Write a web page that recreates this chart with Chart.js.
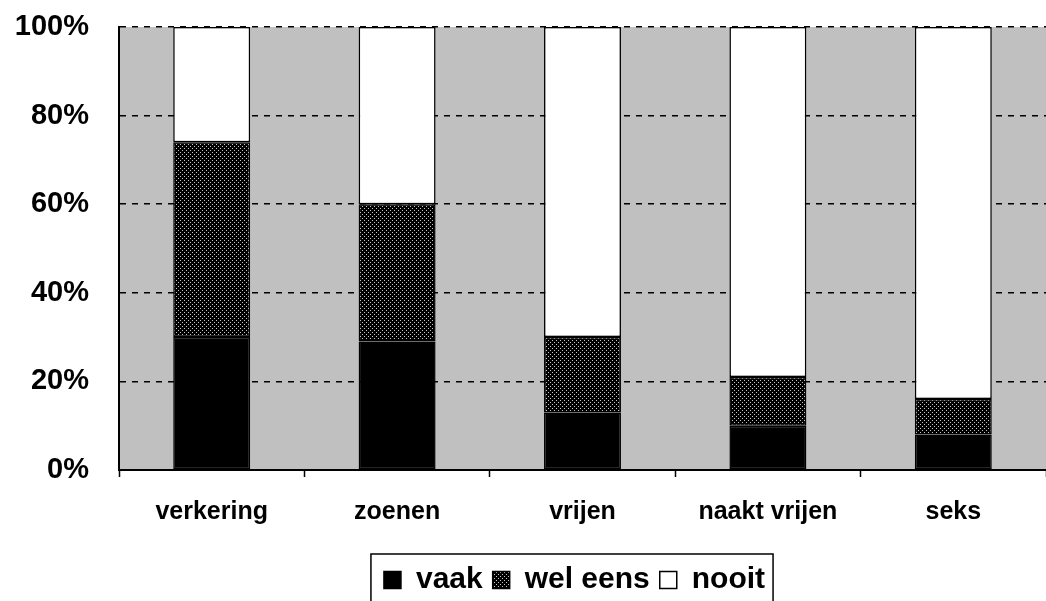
<!DOCTYPE html>
<html>
<head>
<meta charset="utf-8">
<script src="https://cdn.jsdelivr.net/npm/chart.js@4/dist/chart.umd.min.js"></script>
<style>
  body { margin: 0; background: #fff; }
  #wrap { width: 1046px; height: 601px; position: relative; }
</style>
</head>
<body>
<div id="wrap"><canvas id="chart"></canvas></div>
<script>
// data (percent per category)
const categories = ["verkering", "zoenen", "vrijen", "naakt vrijen", "seks"];
const vaak = [30, 29, 13, 10, 8];
const welEens = [44, 31, 17, 11, 8];
const nooit = [26, 40, 70, 79, 84];
const seriesNames = ["vaak", "wel eens", "nooit"];

// dotted fill for "wel eens"
function dotPattern() {
  const c = document.createElement("canvas");
  c.width = 4;
  c.height = 4;
  const g = c.getContext("2d");
  g.fillStyle = "#000";
  g.fillRect(0, 0, 4, 4);
  g.fillStyle = "#c8c8c8";
  g.fillRect(0, 0, 1, 1);
  g.fillRect(2, 2, 1, 1);
  return g.createPattern(c, "repeat");
}

const plotBg = {
  id: "plotBg",
  beforeDraw(chart) {
    const a = chart.chartArea;
    const ctx = chart.ctx;
    ctx.save();
    ctx.fillStyle = "#c0c0c0";
    ctx.fillRect(a.left, a.top, a.right - a.left, a.bottom - a.top);
    ctx.restore();
  }
};

// nudge the legend a bit lower and to the left, and put a frame round it
const legendFrame = {
  id: "legendFrame",
  afterLayout(chart) {
    const l = chart.legend;
    l.top += 4;
    l.bottom += 4;
    l.left -= 8;
    l.right -= 8;
  },
  afterDraw(chart) {
    const hb = chart.legend.legendHitBoxes;
    if (!hb || !hb.length) return;
    const last = hb[hb.length - 1];
    const ctx = chart.ctx;
    const left = hb[0].left - 13;
    const right = last.left + last.width + 8;
    const top = hb[0].top + hb[0].height / 2 - 26;
    ctx.save();
    ctx.strokeStyle = "#000";
    ctx.lineWidth = 1.5;
    ctx.strokeRect(left, top, right - left, chart.height + 10 - top);
    ctx.restore();
  }
};

const font = "'Liberation Sans', Arial, sans-serif";

new Chart(document.getElementById("chart"), {
  type: "bar",
  data: {
    labels: categories,
    datasets: [
      { label: seriesNames[0], data: vaak, backgroundColor: "#000", borderColor: "#000" },
      { label: seriesNames[1], data: welEens, backgroundColor: dotPattern(), borderColor: "#000" },
      { label: seriesNames[2], data: nooit, backgroundColor: "#fff", borderColor: "#000" }
    ]
  },
  options: {
    responsive: true,
    maintainAspectRatio: false,
    animation: false,
    layout: { padding: { top: 27, left: 0, right: 0, bottom: 0 } },
    datasets: {
      bar: {
        barPercentage: 0.415,
        categoryPercentage: 1,
        borderWidth: 1.5,
        borderSkipped: false
      }
    },
    plugins: {
      tooltip: { enabled: false },
      legend: {
        position: "bottom",
        fullSize: false,
        labels: {
          color: "#000",
          font: { family: font, size: 30, weight: "bold" },
          boxWidth: 17,
          boxHeight: 17,
          padding: 10
        }
      }
    },
    scales: {
      x: {
        stacked: true,
        afterFit(s) { s.height = 81; },
        grid: {
          offset: true,
          drawOnChartArea: false,
          drawTicks: true,
          tickLength: 7,
          tickColor: "#000",
          tickWidth: 1.5
        },
        border: { color: "#000", width: 2 },
        ticks: {
          color: "#000",
          padding: 20,
          font: { family: font, size: 25, weight: "bold" }
        }
      },
      y: {
        stacked: true,
        min: 0,
        max: 100,
        afterFit(s) { s.width = 119; },
        grid: {
          color: "#000",
          lineWidth: 1.5,
          drawTicks: true,
          tickLength: 30,
          tickColor: "rgba(0,0,0,0)"
        },
        border: { color: "#000", width: 2, dash: [6, 6] },
        ticks: {
          stepSize: 20,
          color: "#000",
          padding: 0,
          font: { family: font, size: 29, weight: "bold" },
          callback: (v) => v + "%"
        }
      }
    }
  },
  plugins: [plotBg, legendFrame]
});
</script>
</body>
</html>
